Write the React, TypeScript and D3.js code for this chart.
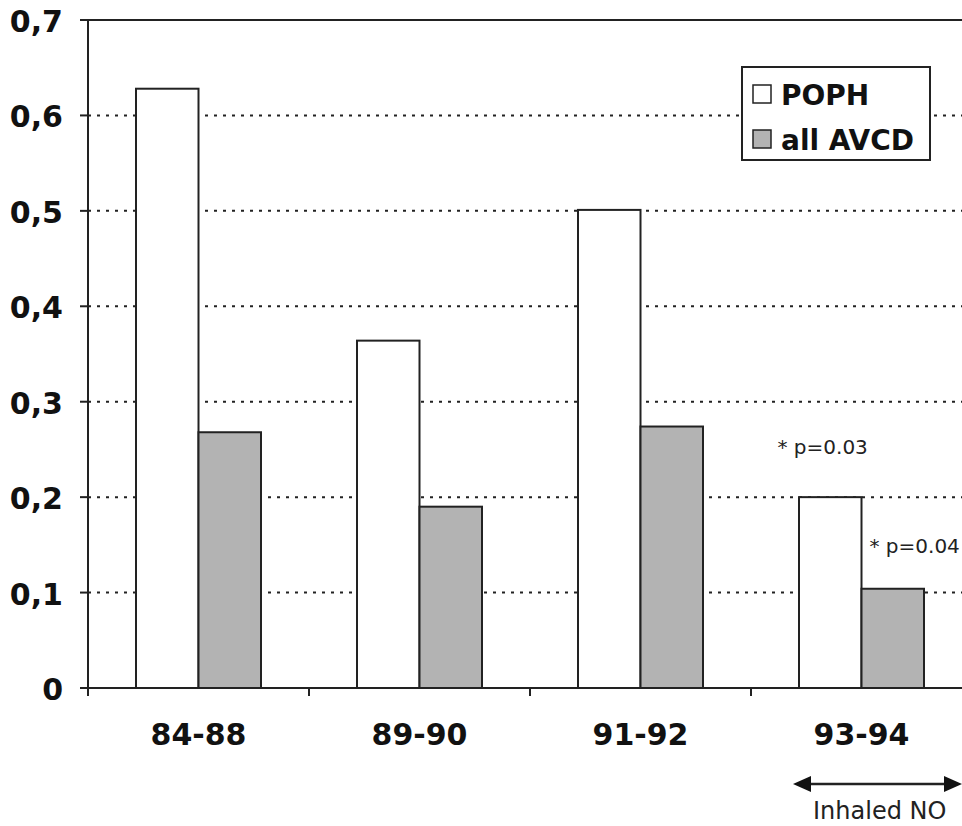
import React from "react";
import * as d3 from "d3";

const categories = ["84-88", "89-90", "91-92", "93-94"];
const seriesNames = ["POPH", "all AVCD"];
const pophValues = [0.628, 0.364, 0.501, 0.2];
const avcdValues = [0.268, 0.19, 0.274, 0.104];
const yTicks = [0, 0.1, 0.2, 0.3, 0.4, 0.5, 0.6, 0.7];
const yTickLabels = ["0", "0,1", "0,2", "0,3", "0,4", "0,5", "0,6", "0,7"];
const annotations = [
  { text: "* p=0.03", cat: "93-94", value: 0.245, dx: -84 },
  { text: "* p=0.04", cat: "93-94", value: 0.1415, dx: 8 },
];

const W = 962, H = 826;
const L = 88, R = 972, T = 20, B = 688;
const FONT = "DejaVu Sans, Verdana, sans-serif";
const colors = ["#ffffff", "#b3b3b3"];

export default function App() {
  const x = d3.scaleBand<string>().domain(categories).range([L, R]).paddingInner(0).paddingOuter(0);
  const y = d3.scaleLinear().domain([0, 0.7]).range([B, T]);
  const barW = 62.5;
  const series = [pophValues, avcdValues];

  return (
    <svg width={W} height={H} style={{ position: "absolute", left: 0, top: 0, background: "#fff" }} fontFamily={FONT}>
      {yTicks.slice(1, -1).map((t) => (
        <line key={t} x1={L} x2={W} y1={y(t)} y2={y(t)} stroke="#222" strokeWidth={2} strokeDasharray="3 6" />
      ))}
      <line x1={L} x2={W} y1={y(0.7)} y2={y(0.7)} stroke="#222" strokeWidth={2} />
      {categories.map((c, i) => {
        const cx = (x(c) as number) + x.bandwidth() / 2;
        return series.map((s, j) => (
          <rect key={c + j} x={cx - barW + j * barW} y={y(s[i])} width={barW} height={B - y(s[i])}
            fill={colors[j]} stroke="#222" strokeWidth={2} />
        ));
      })}
      <line x1={L} x2={L} y1={T} y2={B + 8} stroke="#222" strokeWidth={2} />
      <line x1={L - 8} x2={W} y1={B} y2={B} stroke="#222" strokeWidth={2} />
      {yTicks.map((t, i) => (
        <g key={t}>
          <line x1={L - 8} x2={L} y1={y(t)} y2={y(t)} stroke="#222" strokeWidth={2} />
          <text x={63} y={y(t) + 12} textAnchor="end" fontSize={30} fontWeight="bold" fill="#111">{yTickLabels[i]}</text>
        </g>
      ))}
      {categories.map((c) => (
        <g key={c}>
          <line x1={x(c) as number} x2={x(c) as number} y1={B} y2={B + 8} stroke="#222" strokeWidth={2} />
          <text x={(x(c) as number) + x.bandwidth() / 2} y={745} textAnchor="middle" fontSize={30} fontWeight="bold" fill="#111">{c}</text>
        </g>
      ))}
      <rect x={742} y={67} width={188} height={93} fill="#fff" stroke="#222" strokeWidth={2} />
      {seriesNames.map((n, j) => (
        <g key={n}>
          <rect x={753} y={85 + j * 45} width={18} height={18} fill={colors[j]} stroke="#222" strokeWidth={1.5} />
          <text x={781} y={105 + j * 45} fontSize={28} fontWeight="bold" fill="#111">{n}</text>
        </g>
      ))}
      {annotations.map((a) => (
        <text key={a.text} x={(x(a.cat) as number) + x.bandwidth() / 2 + a.dx} y={y(a.value)} fontSize={20} fill="#222">{a.text}</text>
      ))}
      <line x1={805} x2={952} y1={784} y2={784} stroke="#222" strokeWidth={2.5} />
      <path d="M793,784 L811,776 L811,792 Z" fill="#111" />
      <path d="M962,784 L944,776 L944,792 Z" fill="#111" />
      <text x={813} y={819} fontSize={24} fill="#222">Inhaled NO</text>
    </svg>
  );
}
